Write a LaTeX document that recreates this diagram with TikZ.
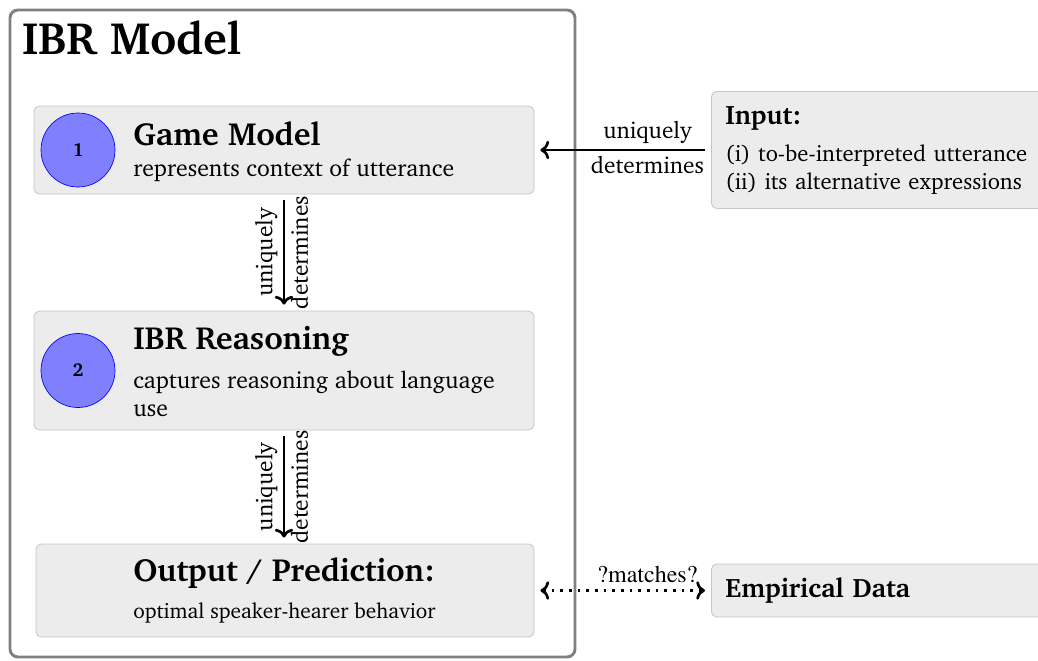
\documentclass[tikz,border=0pt]{standalone}
\usepackage[T1]{fontenc}
\renewcommand{\rmdefault}{bch}
\usepackage{tikz}
\usetikzlibrary{arrows.meta, positioning}

\def\px{0.75pt}
\definecolor{cardgray}{HTML}{ECECEC}
\definecolor{cardline}{HTML}{C6C6C6}
\definecolor{framegray}{HTML}{808080}
\definecolor{dotblue}{HTML}{8080FF}

\newcommand{\titlefont}{\fontsize{34}{38}\selectfont\bfseries}
\newcommand{\headfont}{\fontsize{24}{29}\selectfont\bfseries}
\newcommand{\bodyfont}{\fontsize{17.8}{21}\selectfont}
\newcommand{\inputfont}{\fontsize{17}{21}\selectfont}
\newcommand{\smallbody}{\fontsize{16}{21}\selectfont}
\newcommand{\datafont}{\fontsize{20}{24}\selectfont\bfseries}
\newcommand{\matchfont}{\fontfamily{ptm}\fontsize{18}{21}\selectfont}

\tikzset{
    modelframe/.style={draw=framegray, line width=2.2pt, rounded corners=6pt},
    card/.style={fill=cardgray, draw=cardline, line width=0.6pt, rounded corners=4pt},
    numdot/.style={circle, fill=dotblue, draw=blue, line width=0.5pt, minimum size=74*\px, inner sep=0pt, font=\fontsize{14}{14}\selectfont\bfseries},
    cardtext/.style={anchor=west, align=left, inner sep=0pt, font=\bodyfont},
    link/.style={line width=2pt, -{To[scale=1.1]}, shorten <=4.5pt, shorten >=4.5pt},
    matchlink/.style={line width=2pt, {To[scale=1.1]}-{To[scale=1.1]}, dash pattern=on 2pt off 4.5pt, shorten <=4.5pt, shorten >=4.5pt},
    vlabel/.style={font=\fontsize{17.5}{21}\selectfont, rotate=90, inner sep=4pt},
    hlabel/.style={font=\fontsize{17.5}{21}\selectfont, inner sep=4pt}
}

\begin{document}
\begin{tikzpicture}[x=\px, y=-\px]
    % Page as large as the reference
    \useasboundingbox (0,0) rectangle (1038,660);
    \clip (0,0) rectangle (1038,660);

    % Outer model frame
    \node[modelframe, minimum width=565*\px, minimum height=647*\px] (model) at (292.5,333.5) {};
    \node[anchor=base west, inner sep=0pt, font=\titlefont] (title) at (22,55) {IBR Model};

    % Step 1
    \node[card, minimum width=500*\px, minimum height=88*\px] (game) at (284,150) {};
    \node[numdot] (one) at (78,150) {1};
    \node[cardtext] (gametext) at (133,151) {{\headfont Game Model}\\[2.25pt]represents context of utterance};

    % Step 2
    \node[card, minimum width=500*\px, minimum height=119*\px] (reason) at (284,370.5) {};
    \node[numdot] (two) at (78,370.5) {2};
    \node[cardtext] (reasontext) at (133,372) {{\headfont IBR Reasoning}\\[8.25pt]captures reasoning about language\\use};

    % Output
    \node[card, minimum width=498*\px, minimum height=93*\px] (output) at (285,590.5) {};
    \node[cardtext] (outputtext) at (133,590) {{\headfont Output / Prediction:}\\[6.75pt]{\smallbody optimal speaker-hearer behavior}};

    % Outside the model
    \node[card, anchor=west, minimum height=117*\px, text width=330*\px, inner xsep=14*\px, align=left, font=\inputfont] (input) at (711,150)
        {{\datafont Input:}\\[6.5pt](i) to-be-interpreted utterance\\(ii) its alternative expressions};
    \node[card, anchor=west, minimum height=53*\px, text width=330*\px, inner xsep=14*\px, align=left, font=\datafont] (empirical) at (711,590.5) {Empirical Data};

    % Connectors
    \draw[link] (game) -- (reason)
        node[vlabel, midway, anchor=south] {uniquely}
        node[vlabel, midway, anchor=north] {determines};
    \draw[link] (reason) -- (output.north -| reason.south)
        node[vlabel, midway, anchor=south] {uniquely}
        node[vlabel, midway, anchor=north] {determines};
    \draw[link] (input.west) -- (game.east)
        node[hlabel, pos=0.36, above] {uniquely}
        node[hlabel, pos=0.36, below] {determines};
    \draw[matchlink] (output.east) -- (empirical.west)
        node[hlabel, pos=0.64, above, inner sep=5pt, font=\matchfont] {?matches?};
\end{tikzpicture}
\end{document}
